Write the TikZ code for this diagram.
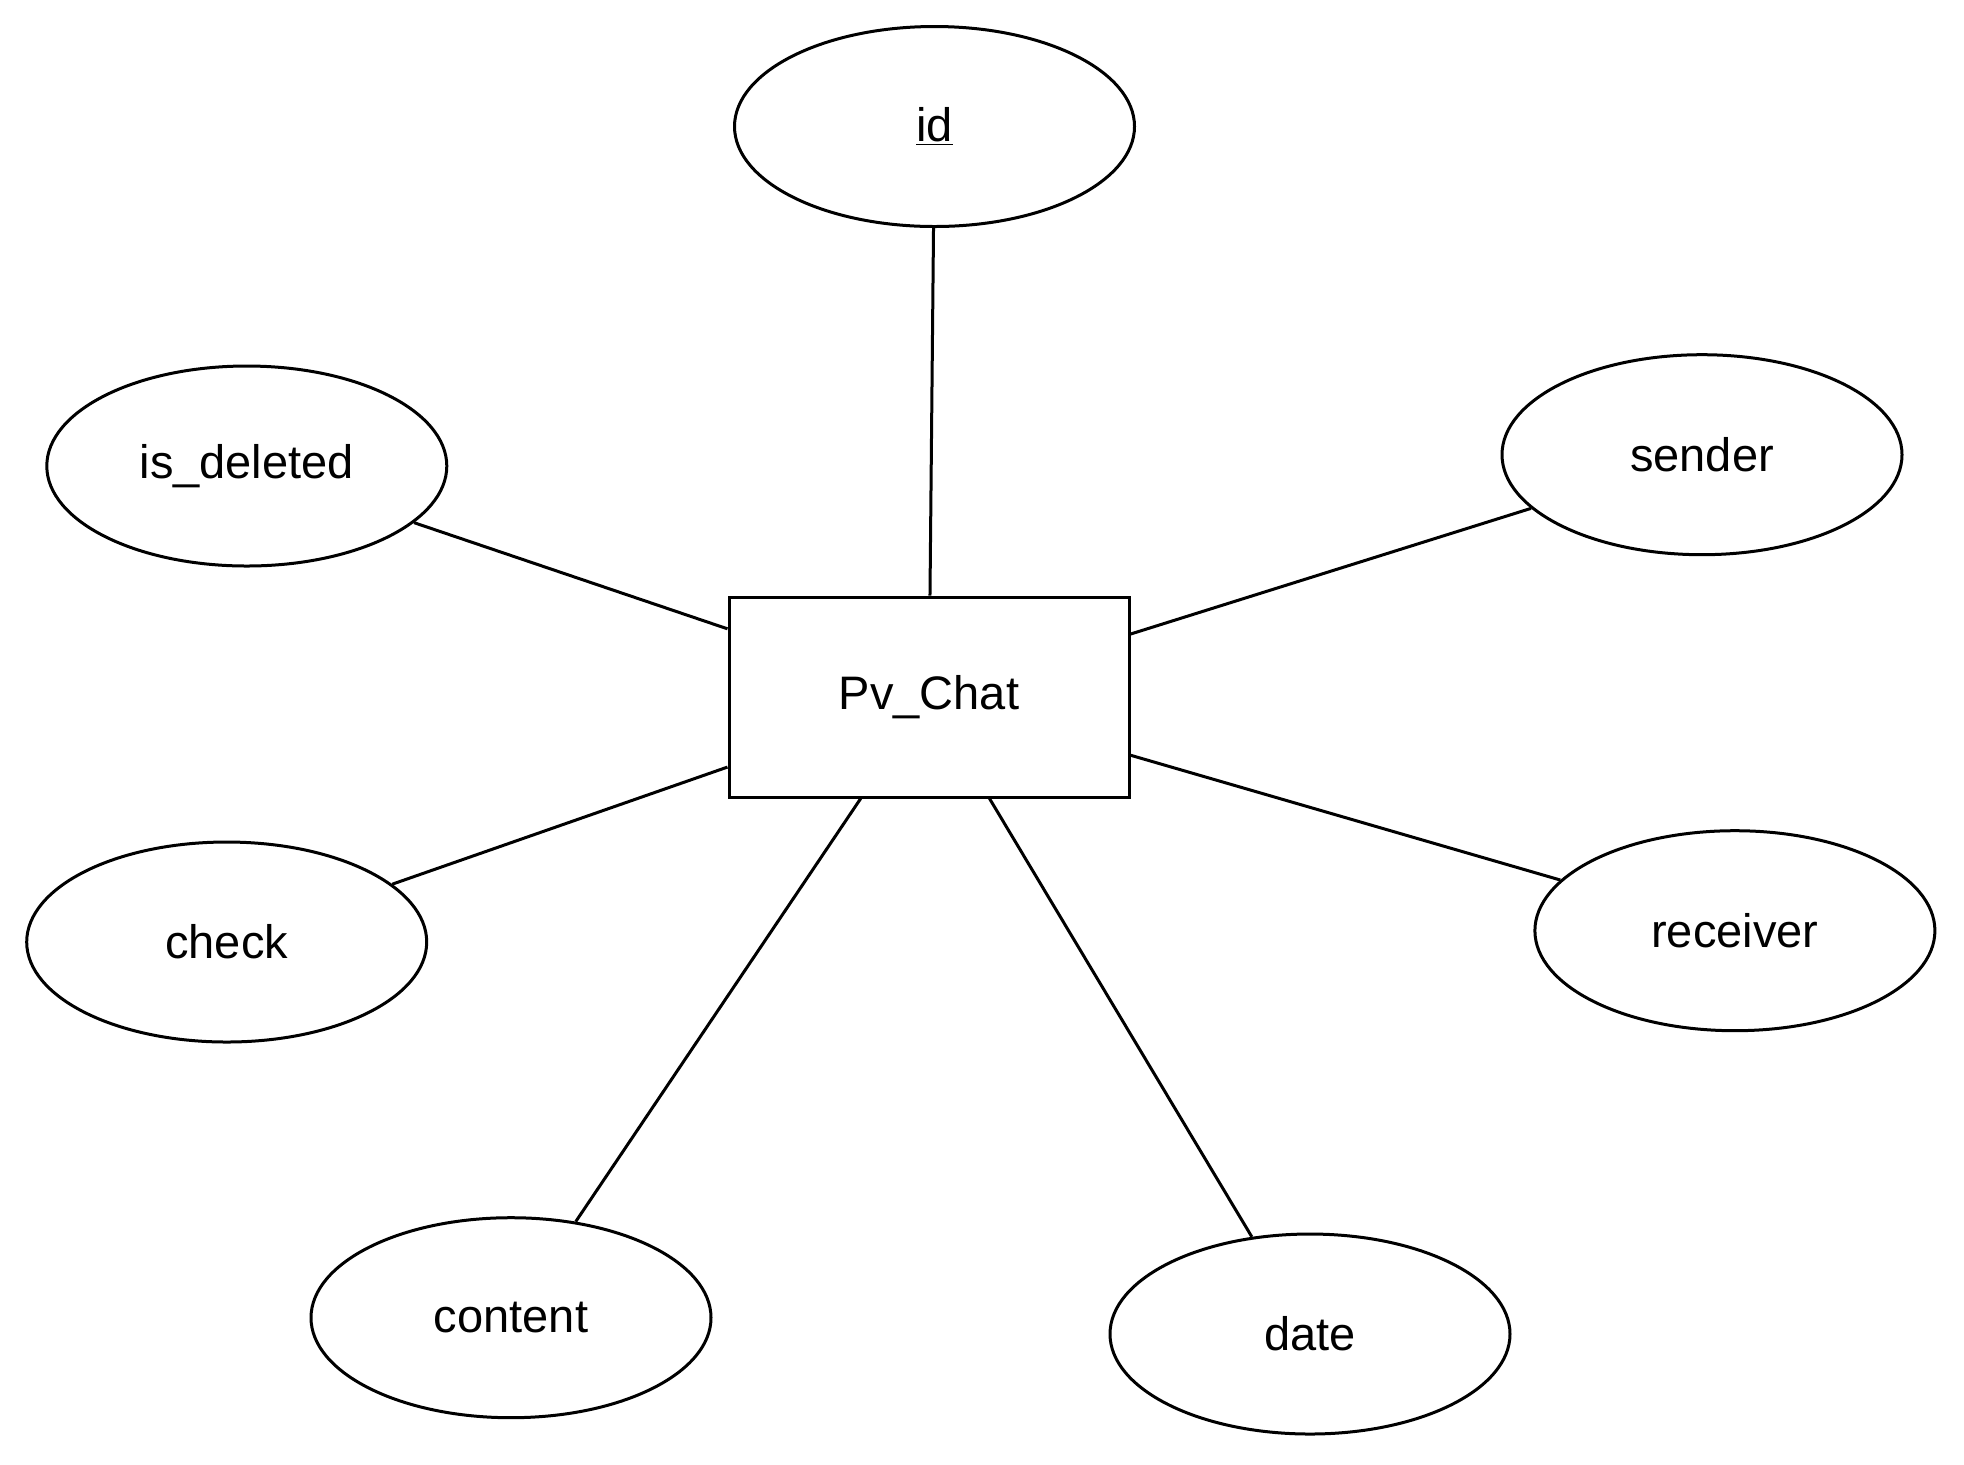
\documentclass[tikz,border=0pt]{standalone}
\usepackage{fontspec}
\setmainfont{Liberation Sans}
\usetikzlibrary{shapes.geometric}
\newcommand{\myul}[1]{\tikz[baseline=(t.base)]{\node[inner sep=0pt,outer sep=0pt] (t) {#1};\draw[line width=1.6pt] ([yshift=-4.5pt]t.base west) -- ([yshift=-4.5pt]t.base east);}}
\begin{document}
\begin{tikzpicture}[x=0.5pt,y=-0.5pt,
  every node/.style={font=\fontsize{23.5}{28}\selectfont, line width=1.5pt},
  entity/.style={draw, rectangle, minimum width=200pt, minimum height=100pt, inner sep=0pt},
  attr/.style={draw, ellipse, minimum width=200pt, minimum height=100pt, inner sep=0pt},
  conn/.style={line width=1.5pt}]
\useasboundingbox (0,0) rectangle (1964,1464);
\node[entity] (pv) at (929,697) {Pv\_Chat};
\node[attr] (id) at (934.5,126.5) {\underline{id}};
\node[attr] (isdel) at (246.8,466) {is\_deleted};
\node[attr] (sender) at (1702,454.7) {sender};
\node[attr] (check) at (226.7,942) {check};
\node[attr] (receiver) at (1734.9,930.7) {receiver};
\node[attr] (content) at (511,1317.7) {content};
\node[attr] (date) at (1310,1334) {date};
\foreach \a in {id,isdel,sender,check,receiver,content,date}
  \draw[conn] (\a) -- (pv);
\end{tikzpicture}
\end{document}
